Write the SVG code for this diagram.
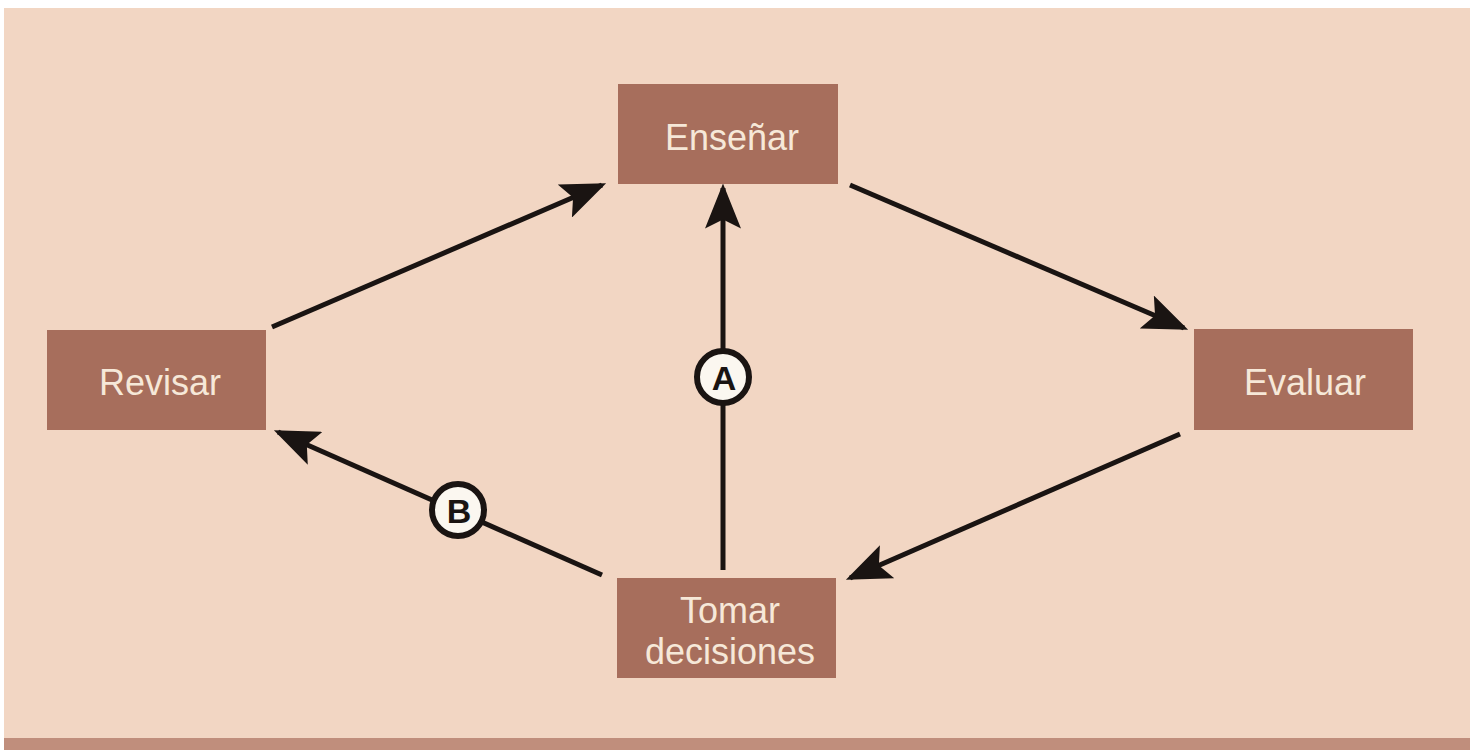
<svg xmlns="http://www.w3.org/2000/svg" width="1470" height="750" viewBox="0 0 1470 750">
<style>
.box{fill:#a76e5c}
.lbl{font-family:"Liberation Sans",Arial,sans-serif;font-size:36px;fill:#f6e8d8;text-anchor:middle}
.edge{stroke:#1a1412;stroke-width:5;fill:none;marker-end:url(#ah)}
.badge{fill:#fbf7f0;stroke:#1a1412;stroke-width:6}
.btxt{font-family:"Liberation Sans",Arial,sans-serif;font-size:34px;font-weight:bold;fill:#1a1412;text-anchor:middle}
</style>
<defs>
<marker id="ah" viewBox="0 0 10 8" refX="9" refY="4" markerWidth="9" markerHeight="7.2" markerUnits="strokeWidth" orient="auto">
<path d="M0,0 L10,4 L0,8 L2,4 Z" fill="#1a1412"/>
</marker>
</defs>
<rect width="1470" height="750" fill="#ffffff"/>
<rect x="4" y="8" width="1466" height="742" fill="#f2d6c3"/>
<rect x="4" y="738" width="1466" height="12" fill="#c08e7c"/>
<g id="connectors">
<line class="edge" x1="272" y1="327" x2="602" y2="185"/>
<line class="edge" x1="850" y1="185" x2="1184" y2="328"/>
<line class="edge" x1="1180" y1="434" x2="850" y2="578"/>
<line class="edge" x1="602" y1="575" x2="278" y2="432"/>
<line class="edge" x1="723" y1="570" x2="723" y2="188"/>
</g>
<g id="badge-A">
<circle class="badge" cx="723" cy="377" r="26"/>
<text class="btxt" x="724" y="390">A</text>
</g>
<g id="badge-B">
<circle class="badge" cx="458" cy="510" r="26"/>
<text class="btxt" x="459" y="523">B</text>
</g>
<g id="node-ensenar">
<rect class="box" x="618" y="84" width="220" height="100"/>
<text class="lbl" x="732" y="150">Enseñar</text>
</g>
<g id="node-revisar">
<rect class="box" x="47" y="330" width="219" height="100"/>
<text class="lbl" x="160" y="395">Revisar</text>
</g>
<g id="node-evaluar">
<rect class="box" x="1194" y="329" width="219" height="101"/>
<text class="lbl" x="1305" y="395">Evaluar</text>
</g>
<g id="node-tomar">
<rect class="box" x="617" y="578" width="219" height="100"/>
<text class="lbl" x="730" y="623">Tomar</text>
<text class="lbl" x="730" y="664">decisiones</text>
</g>
</svg>
